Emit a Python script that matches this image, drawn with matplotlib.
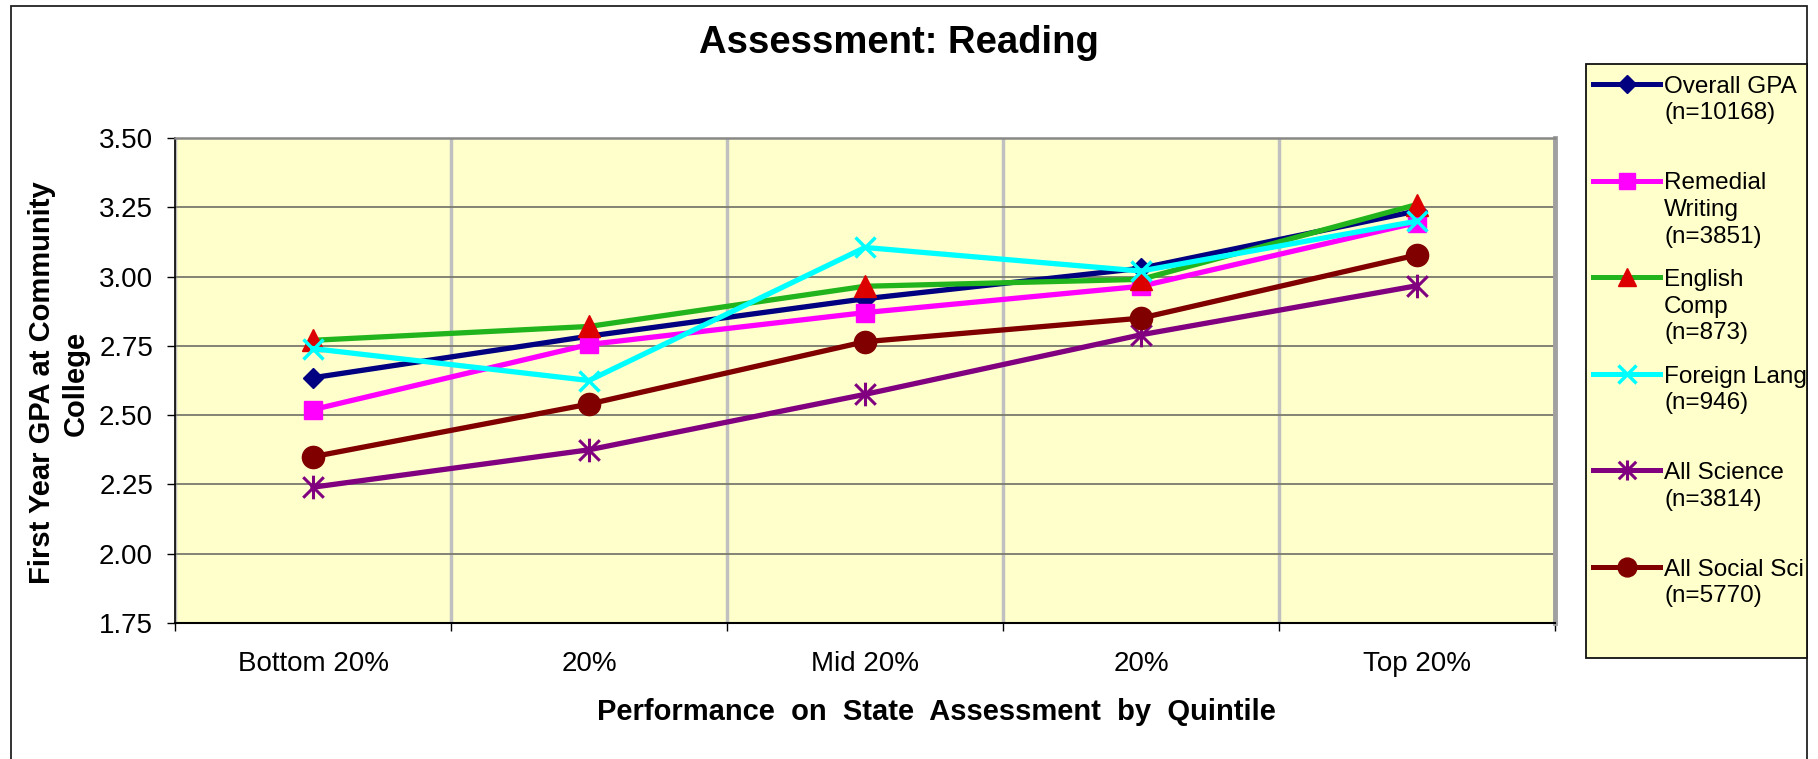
import matplotlib
matplotlib.use('Agg')
import matplotlib.pyplot as plt
from matplotlib.patches import Rectangle
from matplotlib.lines import Line2D
from matplotlib.path import Path
import numpy as np

plt.rcParams['font.family'] = ['Liberation Sans', 'DejaVu Sans']

# ---------------- data ----------------
title = 'Assessment: Reading'
categories = ['Bottom 20%', '20%', 'Mid 20%', '20%', 'Top 20%']
xlabel = 'Performance on State Assessment by Quintile'
ylabel_lines = ['First Year GPA at Community', 'College']
y_ticks = [1.75, 2.00, 2.25, 2.50, 2.75, 3.00, 3.25, 3.50]

series_names = ['Overall GPA\n(n=10168)',
                'Remedial\nWriting\n(n=3851)',
                'English\nComp\n(n=873)',
                'Foreign Lang\n(n=946)',
                'All Science\n(n=3814)',
                'All Social Sci\n(n=5770)']
overall_gpa = [2.635, 2.785, 2.92, 3.03, 3.237]
remedial_writing = [2.52, 2.755, 2.87, 2.965, 3.195]
english_comp = [2.77, 2.82, 2.965, 2.99, 3.26]
foreign_lang = [2.74, 2.625, 3.105, 3.02, 3.20]
all_science = [2.24, 2.375, 2.575, 2.79, 2.967]
all_social_sci = [2.35, 2.54, 2.765, 2.85, 3.078]

# ---------------- styles ----------------
ast_path = Path([(-1, -1), (1, 1), (-1, 1), (1, -1), (0, -1.15), (0, 1.15)],
                [Path.MOVETO, Path.LINETO] * 3)

styles = [
    dict(color='#000080', marker='D', ms=10.5, mfc='#000080', mec='#000080', mew=1),
    dict(color='#FF00FF', marker='s', ms=13.5, mfc='#FF00FF', mec='#FF00FF', mew=1),
    dict(color='#22B41C', marker='^', ms=15.5, mfc='#DD0000', mec='#DD0000', mew=1),
    dict(color='#00FFFF', marker='x', ms=14.5, mfc='#00FFFF', mec='#00FFFF', mew=2.5),
    dict(color='#800080', marker=ast_path, ms=17, mfc='none', mec='#800080', mew=2.2),
    dict(color='#800000', marker='o', ms=16, mfc='#800000', mec='#800000', mew=1),
]
all_series = [overall_gpa, remedial_writing, english_comp, foreign_lang,
              all_science, all_social_sci]

W, H = 1818, 759
DPI = 100
fig = plt.figure(figsize=(W / DPI, H / DPI), dpi=DPI)


def fx(px):
    return px / W


def fy(py):
    return 1 - py / H


# outer chart frame (bottom edge lies below the image)
fig.add_artist(Rectangle((fx(11), -0.05), fx(1807) - fx(11), fy(6) + 0.05,
                         transform=fig.transFigure, fill=False,
                         edgecolor='#222222', lw=1.3, zorder=0))

ax = fig.add_axes([fx(175), fy(623), fx(1555) - fx(175), (623 - 138) / H])
ax.set_facecolor('#FFFFCC')

x = np.arange(len(categories))
for vals, st in zip(all_series, styles):
    ax.plot(x, vals, color=st['color'], lw=3.8, marker=st['marker'],
            markersize=st['ms'], markerfacecolor=st['mfc'],
            markeredgecolor=st['mec'], markeredgewidth=st['mew'],
            solid_joinstyle='round', zorder=3)

ax.set_xlim(-0.5, len(categories) - 0.5)
ax.set_ylim(y_ticks[0], y_ticks[-1])

ax.set_xticks(x)
ax.set_xticklabels(categories, fontsize=20)
ax.tick_params(axis='x', which='major', length=0, pad=20)
ax.set_xticks(np.arange(-0.5, len(categories), 1.0), minor=True)
ax.tick_params(axis='x', which='minor', length=5.8, width=1.0,
               direction='out', color='black')

ax.set_yticks(y_ticks)
ax.set_yticklabels([f'{v:.2f}' for v in y_ticks], fontsize=20)
ax.tick_params(axis='y', length=5.8, width=1.0, direction='out',
               color='black', pad=10)

ax.set_axisbelow(True)
ax.yaxis.grid(True, color='#7a7a6e', lw=1.3)
ax.xaxis.grid(True, which='minor', color='#c0c0c0', lw=2.5)
ax.xaxis.grid(False, which='major')

ax.spines['left'].set_color('black')
ax.spines['left'].set_linewidth(1.2)
ax.spines['bottom'].set_color('black')
ax.spines['bottom'].set_linewidth(1.5)
ax.spines['top'].set_color('#888888')
ax.spines['top'].set_linewidth(1.8)
ax.spines['right'].set_color('#a0a0a0')
ax.spines['right'].set_linewidth(3.5)

# title and axis titles
fig.text(fx(899), fy(52.7), title, ha='center', va='baseline',
         fontsize=27.5, fontweight='bold')
fig.text(fx(936), fy(720), '  '.join(xlabel.split()), ha='center',
         va='baseline', fontsize=21, fontweight='bold')
for j, line in enumerate(ylabel_lines):
    fig.text(fx(50 + 34 * j), fy(383), line, rotation=90,
             rotation_mode='anchor', ha='center', va='baseline',
             fontsize=21, fontweight='bold')

# legend box
leg_left, leg_right, leg_top, leg_bottom = 1586, 1807, 64, 658
fig.add_artist(Rectangle((fx(leg_left), fy(leg_bottom)),
                         fx(leg_right) - fx(leg_left),
                         (leg_bottom - leg_top) / H,
                         transform=fig.transFigure, facecolor='#FFFFCC',
                         edgecolor='#111111', lw=1.3, zorder=1))
pitch = 96.6
for i, (name, st) in enumerate(zip(series_names, styles)):
    yy = 84 + i * pitch
    fig.add_artist(Line2D([fx(1593), fx(1626.5), fx(1660)], [fy(yy)] * 3,
                          transform=fig.transFigure, color=st['color'],
                          lw=3.6, marker=st['marker'], markevery=[1],
                          markersize=st['ms'] * 0.85, markerfacecolor=st['mfc'],
                          markeredgecolor=st['mec'],
                          markeredgewidth=st['mew'], zorder=2))
    for j, line in enumerate(name.split('\n')):
        fig.text(fx(1664), fy(yy + 8.7 + j * 26.7), line, ha='left',
                 va='baseline', fontsize=17.5, zorder=3)

fig.savefig('out.png', dpi=DPI)
